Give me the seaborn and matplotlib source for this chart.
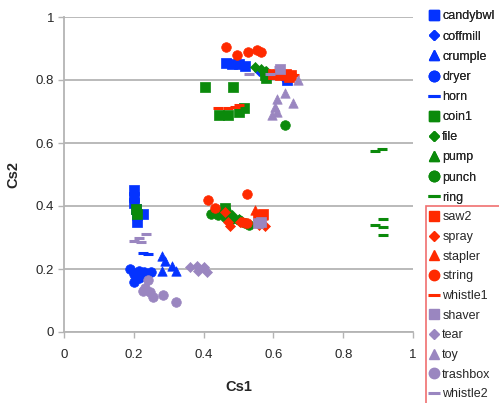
import numpy as np
import pandas as pd
import seaborn as sns
import matplotlib
matplotlib.use('Agg')
import matplotlib.pyplot as plt
from matplotlib.lines import Line2D
from matplotlib.patches import Rectangle

# 各类声音的 Cs1 / Cs2 数据
names = ['candybwl', 'coffmill', 'crumple', 'dryer', 'horn',
         'coin1', 'file', 'pump', 'punch', 'ring',
         'saw2', 'spray', 'stapler', 'string', 'whistle1',
         'shaver', 'tear', 'toy', 'trashbox', 'whistle2']

candybwl_x = [0.465, 0.48, 0.50, 0.52, 0.64, 0.20, 0.20, 0.202, 0.205, 0.21, 0.225, 0.21]
candybwl_y = [0.855, 0.85, 0.85, 0.845, 0.80, 0.45, 0.43, 0.41, 0.39, 0.37, 0.375, 0.35]
coffmill_x = [0.56, 0.63, 0.20]
coffmill_y = [0.83, 0.805, 0.42]
crumple_x = [0.28, 0.29, 0.31, 0.32, 0.28]
crumple_y = [0.24, 0.225, 0.21, 0.195, 0.195]
dryer_x = [0.19, 0.20, 0.215, 0.23, 0.25, 0.20, 0.215, 0.235]
dryer_y = [0.20, 0.185, 0.195, 0.19, 0.19, 0.16, 0.17, 0.175]
horn_x = [0.225, 0.24]
horn_y = [0.252, 0.247]

coin1_x = [0.404, 0.484, 0.445, 0.47, 0.50, 0.515, 0.205, 0.21, 0.46, 0.575, 0.58]
coin1_y = [0.778, 0.778, 0.688, 0.688, 0.70, 0.71, 0.39, 0.375, 0.395, 0.815, 0.805]
file_x = [0.547, 0.565, 0.58, 0.45, 0.48, 0.50]
file_y = [0.84, 0.835, 0.83, 0.385, 0.37, 0.36]
pump_x = [0.575, 0.59, 0.47]
pump_y = [0.83, 0.82, 0.39]
punch_x = [0.633, 0.42, 0.44, 0.46, 0.48, 0.50, 0.52, 0.53, 0.575]
punch_y = [0.657, 0.375, 0.37, 0.365, 0.36, 0.355, 0.345, 0.34, 0.82]
ring_x = [0.89, 0.91, 0.915, 0.89, 0.915, 0.915]
ring_y = [0.575, 0.58, 0.36, 0.34, 0.333, 0.308]

saw2_x = [0.60, 0.62, 0.635, 0.65, 0.645, 0.555, 0.57]
saw2_y = [0.82, 0.815, 0.82, 0.815, 0.81, 0.37, 0.375]
spray_x = [0.46, 0.47, 0.475, 0.505, 0.52, 0.56, 0.575]
spray_y = [0.38, 0.35, 0.335, 0.35, 0.345, 0.34, 0.335]
stapler_x = [0.547, 0.57, 0.60]
stapler_y = [0.387, 0.37, 0.82]
string_x = [0.464, 0.495, 0.528, 0.553, 0.565, 0.413, 0.432, 0.523, 0.51, 0.525, 0.62, 0.64]
string_y = [0.905, 0.88, 0.89, 0.895, 0.89, 0.42, 0.395, 0.437, 0.35, 0.345, 0.82, 0.815]
whistle1_x = [0.44, 0.47, 0.49, 0.50, 0.61, 0.63, 0.65, 0.66, 0.62]
whistle1_y = [0.71, 0.71, 0.715, 0.72, 0.825, 0.82, 0.82, 0.815, 0.81]

shaver_x = [0.555, 0.565, 0.62]
shaver_y = [0.345, 0.35, 0.835]
tear_x = [0.36, 0.38, 0.385, 0.41, 0.40]
tear_y = [0.205, 0.21, 0.195, 0.19, 0.205]
toy_x = [0.67, 0.633, 0.61, 0.657, 0.605, 0.61, 0.596]
toy_y = [0.80, 0.76, 0.74, 0.727, 0.714, 0.70, 0.69]
trashbox_x = [0.24, 0.232, 0.246, 0.255, 0.284, 0.32, 0.225]
trashbox_y = [0.165, 0.14, 0.127, 0.11, 0.117, 0.095, 0.13]
whistle2_x = [0.20, 0.215, 0.235, 0.22, 0.53, 0.615, 0.59]
whistle2_y = [0.29, 0.30, 0.31, 0.285, 0.82, 0.84, 0.82]

xs = [candybwl_x, coffmill_x, crumple_x, dryer_x, horn_x,
      coin1_x, file_x, pump_x, punch_x, ring_x,
      saw2_x, spray_x, stapler_x, string_x, whistle1_x,
      shaver_x, tear_x, toy_x, trashbox_x, whistle2_x]
ys = [candybwl_y, coffmill_y, crumple_y, dryer_y, horn_y,
      coin1_y, file_y, pump_y, punch_y, ring_y,
      saw2_y, spray_y, stapler_y, string_y, whistle1_y,
      shaver_y, tear_y, toy_y, trashbox_y, whistle2_y]

colors = ['#0433ff'] * 5 + ['#0b8a0b'] * 5 + ['#ff2a00'] * 5 + ['#9a86c0'] * 5
markers = ['s', 'D', '^', 'o', '_'] * 4
sizes = [44, 26, 46, 48, 55] * 4

sns.set_style('white')
plt.rcParams['font.family'] = ['Liberation Sans', 'DejaVu Sans']

fig = plt.figure(figsize=(4.99, 4.03), dpi=100)
ax = fig.add_axes([64 / 499, 1 - 332 / 403, 349 / 499, 315 / 403])

for i in range(len(names)):
    df = pd.DataFrame({'Cs1': xs[i], 'Cs2': ys[i]})
    if markers[i] == '_':
        sns.scatterplot(data=df, x='Cs1', y='Cs2', ax=ax, marker='_', s=sizes[i],
                        color=colors[i], linewidth=2.2, zorder=3)
    else:
        sns.scatterplot(data=df, x='Cs1', y='Cs2', ax=ax, marker=markers[i], s=sizes[i],
                        color=colors[i], edgecolor=colors[i], linewidth=0.5, zorder=3)

ax.set_xlim(0, 1)
ax.set_ylim(0, 1)
ticks = [0, 0.2, 0.4, 0.6, 0.8, 1]
tick_labels = ['0', '0.2', '0.4', '0.6', '0.8', '1']
ax.set_xticks(ticks)
ax.set_xticklabels(tick_labels)
ax.set_yticks(ticks)
ax.set_yticklabels(tick_labels)
ax.yaxis.grid(True, color='#b4b4b4', linewidth=1.3)
ax.xaxis.grid(False)
ax.set_axisbelow(True)
for s in ['top', 'right']:
    ax.spines[s].set_visible(False)
for s in ['left', 'bottom']:
    ax.spines[s].set_color('#b4b4b4')
    ax.spines[s].set_linewidth(1.3)
ax.tick_params(axis='x', length=4, width=1.0, color='#b4b4b4', labelsize=9.5, pad=8,
               bottom=True)
ax.tick_params(axis='y', length=4, width=1.0, color='#b4b4b4', labelsize=9.5, pad=3,
               left=True)
ax.set_xlabel('Cs1', fontsize=10.5, fontweight='bold', labelpad=14)
ax.set_ylabel('Cs2', fontsize=10.5, fontweight='bold')
ax.yaxis.set_label_coords(-0.125, 0.5)

handles = []
for i in range(len(names)):
    if markers[i] == '_':
        h = Line2D([], [], linestyle='', marker='_', markersize=9, markeredgewidth=2.2,
                   color=colors[i])
    else:
        ms = {'s': 7.5, 'D': 5.5, '^': 7.5, 'o': 7.5}[markers[i]]
        h = Line2D([], [], linestyle='', marker=markers[i], markersize=ms,
                   color=colors[i], markeredgecolor=colors[i])
    handles.append(h)

leg_kw = dict(loc='upper left', frameon=False, fontsize=9, handlelength=0.8,
              handletextpad=0.3, borderpad=0.2, borderaxespad=0)
leg1 = fig.legend(handles[:10], names[:10], bbox_to_anchor=(426 / 499, 1 - 8 / 403),
                  labelspacing=0.65, **leg_kw)
leg2 = fig.legend(handles[10:], names[10:], bbox_to_anchor=(426 / 499, 1 - 209 / 403),
                  labelspacing=0.61, **leg_kw)
fig.add_artist(leg1)

# 第二组图例外的红框
fig.patches.append(Rectangle((426 / 499, -0.05), 0.2, 1.05 - 206 / 403,
                             transform=fig.transFigure, fill=False,
                             edgecolor='#f07070', linewidth=1.2))

plt.savefig('out.png', dpi=100)
